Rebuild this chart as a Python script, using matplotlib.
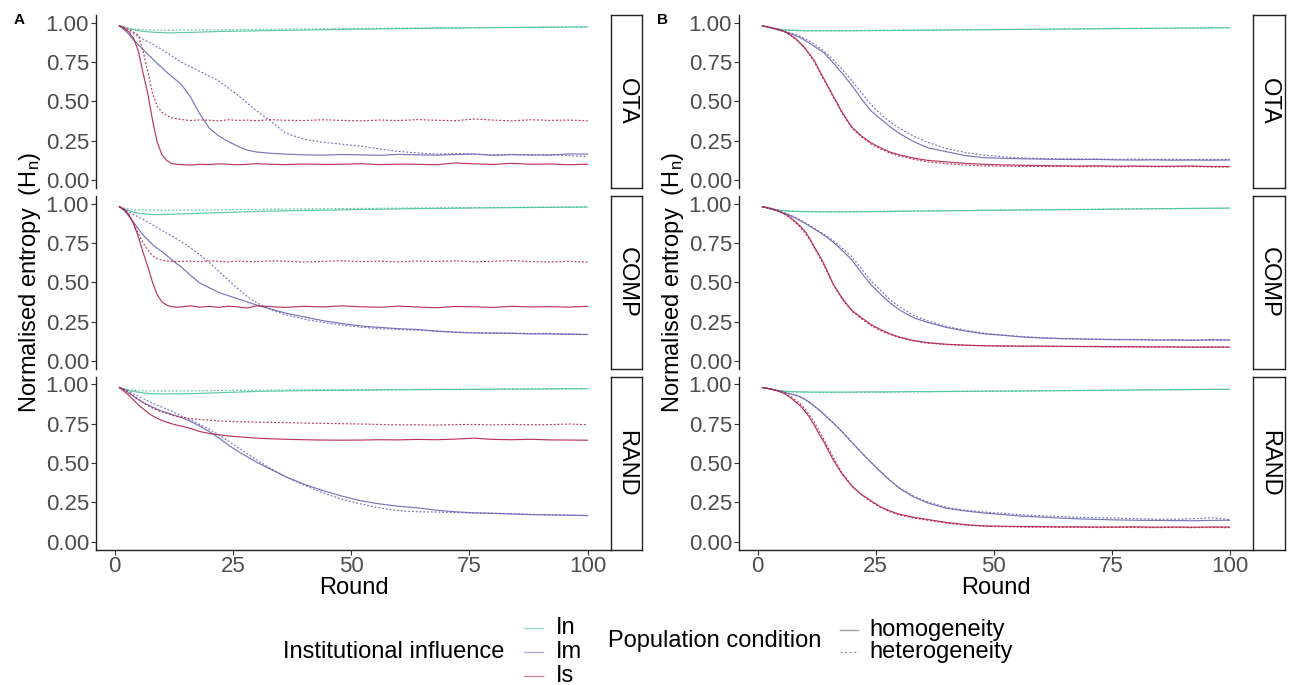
import matplotlib
matplotlib.use("Agg")
from matplotlib import pyplot as plt
from matplotlib.lines import Line2D

plt.rcParams['font.family'] = ['Liberation Sans', 'DejaVu Sans']
plt.rcParams['mathtext.fontset'] = 'custom'
plt.rcParams['mathtext.rm'] = 'Liberation Sans'
plt.rcParams['mathtext.it'] = 'Liberation Sans:italic'

########## data ##########
rounds = [1, 2, 3, 4, 5, 6, 7, 8, 9, 10, 11, 12, 13, 14, 16, 18, 20, 22, 24, 26,
          28, 30, 33, 36, 40, 44, 48, 52, 56, 60, 64, 68, 72, 76, 80, 84, 88, 92, 96, 100]

facets = ["OTA", "COMP", "RAND"]
influences = ["In", "Im", "Is"]
conditions = ["homogeneity", "heterogeneity"]

# panel A - OTA
a_ota_in_hom = [0.980,0.970,0.960,0.955,0.950,0.945,0.942,0.940,0.938,0.937,0.936,0.935,0.936,0.937,
                0.938,0.940,0.942,0.944,0.945,0.946,0.947,0.948,0.950,0.951,0.953,0.955,0.957,0.959,0.960,0.962,0.963,0.965,0.966,0.967,0.968,0.969,0.970,0.971,0.972,0.973]
a_ota_in_het = [0.980,0.972,0.965,0.960,0.957,0.955,0.954,0.953,0.953,0.952,0.952,0.952,0.952,0.953,
                0.953,0.954,0.954,0.955,0.955,0.956,0.956,0.957,0.958,0.959,0.960,0.961,0.962,0.963,0.964,0.965,0.966,0.967,0.968,0.969,0.970,0.970,0.971,0.972,0.972,0.973]
a_ota_im_hom = [0.980,0.955,0.925,0.890,0.860,0.830,0.800,0.770,0.740,0.715,0.685,0.660,0.635,0.610,
                0.530,0.420,0.330,0.280,0.245,0.215,0.190,0.178,0.170,0.165,0.160,0.158,0.162,0.160,0.157,0.163,0.160,0.158,0.162,0.165,0.157,0.161,0.160,0.158,0.166,0.165]
a_ota_im_het = [0.980,0.960,0.945,0.930,0.910,0.895,0.880,0.865,0.845,0.830,0.810,0.790,0.770,0.750,
                0.720,0.690,0.660,0.630,0.585,0.540,0.490,0.440,0.375,0.300,0.260,0.240,0.228,0.215,0.198,0.182,0.172,0.165,0.168,0.165,0.160,0.163,0.158,0.162,0.155,0.150]
a_ota_is_hom = [0.980,0.965,0.940,0.900,0.820,0.680,0.550,0.380,0.240,0.160,0.125,0.105,0.100,0.098,
                0.095,0.100,0.098,0.103,0.100,0.097,0.100,0.104,0.100,0.098,0.102,0.099,0.100,0.104,0.098,0.101,0.100,0.097,0.108,0.103,0.099,0.106,0.100,0.102,0.097,0.101]
a_ota_is_het = [0.980,0.970,0.955,0.940,0.920,0.820,0.690,0.550,0.470,0.430,0.410,0.395,0.390,0.385,
                0.378,0.382,0.380,0.376,0.383,0.379,0.381,0.377,0.384,0.380,0.378,0.383,0.379,0.376,0.381,0.378,0.384,0.380,0.377,0.388,0.381,0.376,0.383,0.379,0.381,0.377]

# panel A - COMP
a_comp_in_hom = [0.980,0.965,0.955,0.945,0.940,0.935,0.932,0.930,0.930,0.930,0.931,0.932,0.933,0.934,
                 0.936,0.938,0.940,0.942,0.944,0.946,0.948,0.950,0.952,0.954,0.956,0.958,0.960,0.962,0.964,0.966,0.968,0.969,0.970,0.972,0.973,0.974,0.975,0.976,0.977,0.978]
a_comp_in_het = [0.980,0.970,0.965,0.962,0.960,0.960,0.959,0.959,0.958,0.958,0.958,0.958,0.958,0.958,
                 0.959,0.959,0.960,0.960,0.961,0.962,0.962,0.963,0.964,0.965,0.966,0.967,0.968,0.969,0.970,0.971,0.972,0.973,0.974,0.975,0.975,0.976,0.977,0.977,0.978,0.978]
a_comp_im_hom = [0.980,0.955,0.920,0.880,0.840,0.800,0.770,0.740,0.715,0.695,0.670,0.645,0.620,0.600,
                 0.545,0.495,0.465,0.435,0.415,0.395,0.375,0.355,0.330,0.305,0.280,0.256,0.238,0.222,0.213,0.205,0.200,0.190,0.182,0.178,0.176,0.175,0.172,0.171,0.169,0.168]
a_comp_im_het = [0.980,0.965,0.948,0.930,0.915,0.900,0.882,0.865,0.848,0.830,0.812,0.795,0.778,0.760,
                 0.720,0.675,0.625,0.570,0.515,0.460,0.410,0.370,0.325,0.295,0.265,0.245,0.228,0.215,0.205,0.200,0.195,0.188,0.183,0.180,0.179,0.177,0.174,0.175,0.172,0.168]
a_comp_is_hom = [0.980,0.965,0.930,0.870,0.790,0.690,0.600,0.500,0.420,0.375,0.355,0.345,0.342,0.343,
                 0.350,0.342,0.347,0.340,0.348,0.344,0.336,0.350,0.345,0.340,0.347,0.343,0.350,0.344,0.341,0.348,0.343,0.338,0.346,0.344,0.340,0.347,0.343,0.345,0.342,0.347]
a_comp_is_het = [0.980,0.960,0.930,0.875,0.810,0.750,0.705,0.670,0.650,0.640,0.635,0.633,0.632,0.632,
                 0.634,0.630,0.636,0.633,0.629,0.635,0.632,0.630,0.636,0.634,0.628,0.633,0.637,0.631,0.634,0.629,0.635,0.632,0.636,0.630,0.633,0.638,0.631,0.629,0.633,0.628]

# panel A - RAND
a_rand_in_hom = [0.980,0.970,0.960,0.955,0.950,0.946,0.943,0.940,0.940,0.939,0.939,0.939,0.940,0.940,
                 0.941,0.943,0.945,0.947,0.949,0.951,0.953,0.955,0.957,0.958,0.960,0.961,0.962,0.963,0.964,0.965,0.966,0.967,0.967,0.968,0.969,0.970,0.970,0.971,0.972,0.972]
a_rand_in_het = [0.980,0.972,0.966,0.962,0.960,0.959,0.958,0.958,0.958,0.958,0.958,0.958,0.958,0.959,
                 0.959,0.960,0.960,0.961,0.961,0.962,0.962,0.963,0.964,0.964,0.965,0.966,0.966,0.967,0.967,0.968,0.968,0.969,0.969,0.970,0.970,0.971,0.971,0.972,0.972,0.973]
a_rand_im_hom = [0.980,0.965,0.945,0.925,0.905,0.885,0.870,0.855,0.842,0.830,0.820,0.810,0.800,0.790,
                 0.765,0.735,0.700,0.660,0.615,0.575,0.540,0.505,0.460,0.415,0.365,0.325,0.290,0.260,0.240,0.225,0.215,0.200,0.190,0.183,0.180,0.176,0.172,0.170,0.168,0.166]
a_rand_im_het = [0.980,0.970,0.955,0.940,0.925,0.910,0.895,0.880,0.868,0.855,0.843,0.830,0.815,0.800,
                 0.775,0.745,0.715,0.680,0.640,0.600,0.560,0.520,0.465,0.415,0.360,0.310,0.270,0.240,0.215,0.197,0.190,0.188,0.185,0.182,0.180,0.178,0.173,0.170,0.168,0.166]
a_rand_is_hom = [0.980,0.955,0.930,0.900,0.870,0.845,0.820,0.800,0.785,0.770,0.760,0.750,0.742,0.735,
                 0.720,0.700,0.688,0.680,0.672,0.667,0.663,0.658,0.654,0.651,0.648,0.646,0.645,0.646,0.648,0.647,0.650,0.648,0.652,0.658,0.650,0.648,0.651,0.647,0.646,0.645]
a_rand_is_het = [0.980,0.965,0.945,0.925,0.905,0.885,0.865,0.850,0.835,0.825,0.815,0.805,0.797,0.790,
                 0.782,0.777,0.772,0.768,0.765,0.763,0.762,0.760,0.758,0.757,0.754,0.752,0.750,0.748,0.745,0.742,0.743,0.741,0.744,0.745,0.742,0.745,0.743,0.744,0.748,0.743]

# panel B - OTA
b_ota_in_hom = [0.980,0.972,0.965,0.960,0.956,0.953,0.951,0.950,0.949,0.948,0.948,0.948,0.948,0.948,
                0.948,0.948,0.948,0.949,0.949,0.950,0.950,0.951,0.951,0.952,0.953,0.954,0.955,0.956,0.957,0.958,0.959,0.960,0.961,0.962,0.963,0.964,0.965,0.966,0.967,0.968]
b_ota_in_het = [0.980,0.973,0.967,0.962,0.958,0.956,0.954,0.953,0.952,0.951,0.951,0.951,0.951,0.951,
                0.951,0.951,0.951,0.951,0.952,0.952,0.952,0.953,0.953,0.954,0.955,0.955,0.956,0.957,0.958,0.959,0.960,0.961,0.962,0.963,0.964,0.964,0.965,0.966,0.967,0.968]
b_ota_im_hom = [0.980,0.973,0.965,0.957,0.948,0.940,0.930,0.918,0.905,0.888,0.870,0.850,0.830,0.810,
                0.745,0.675,0.600,0.515,0.440,0.390,0.340,0.297,0.245,0.205,0.180,0.155,0.142,0.138,0.135,0.133,0.131,0.130,0.131,0.128,0.127,0.128,0.126,0.127,0.126,0.127]
b_ota_im_het = [0.980,0.974,0.967,0.960,0.952,0.944,0.935,0.925,0.913,0.898,0.882,0.864,0.843,0.820,
                0.765,0.700,0.630,0.555,0.480,0.420,0.370,0.330,0.280,0.240,0.200,0.175,0.158,0.148,0.140,0.137,0.135,0.134,0.133,0.132,0.133,0.131,0.132,0.130,0.131,0.131]
b_ota_is_hom = [0.980,0.975,0.968,0.960,0.952,0.940,0.920,0.900,0.870,0.840,0.800,0.760,0.700,0.645,
                0.535,0.425,0.335,0.280,0.237,0.205,0.178,0.160,0.140,0.125,0.115,0.106,0.100,0.096,0.094,0.092,0.090,0.089,0.090,0.088,0.089,0.087,0.088,0.089,0.086,0.085]
b_ota_is_het = [0.980,0.974,0.967,0.958,0.950,0.937,0.918,0.897,0.868,0.836,0.797,0.752,0.695,0.640,
                0.528,0.420,0.330,0.275,0.230,0.198,0.172,0.152,0.132,0.115,0.104,0.095,0.090,0.088,0.087,0.086,0.087,0.085,0.086,0.084,0.086,0.085,0.084,0.086,0.083,0.084]

# panel B - COMP
b_comp_in_hom = [0.980,0.972,0.965,0.960,0.956,0.953,0.951,0.950,0.949,0.948,0.948,0.947,0.947,0.947,
                 0.947,0.947,0.947,0.948,0.948,0.949,0.950,0.951,0.952,0.953,0.954,0.955,0.957,0.958,0.959,0.960,0.961,0.962,0.963,0.965,0.966,0.967,0.968,0.969,0.970,0.971]
b_comp_in_het = [0.980,0.973,0.967,0.962,0.958,0.955,0.953,0.952,0.951,0.950,0.950,0.949,0.949,0.949,
                 0.949,0.949,0.949,0.950,0.950,0.951,0.952,0.952,0.953,0.954,0.955,0.956,0.958,0.959,0.960,0.961,0.962,0.963,0.964,0.965,0.966,0.967,0.968,0.969,0.970,0.971]
b_comp_im_hom = [0.980,0.972,0.963,0.955,0.945,0.935,0.922,0.908,0.892,0.875,0.857,0.838,0.820,0.800,
                 0.755,0.700,0.640,0.560,0.485,0.425,0.370,0.325,0.275,0.245,0.213,0.190,0.172,0.163,0.152,0.146,0.142,0.140,0.137,0.135,0.136,0.133,0.134,0.131,0.135,0.133]
b_comp_im_het = [0.980,0.973,0.965,0.957,0.948,0.938,0.926,0.912,0.897,0.880,0.862,0.843,0.825,0.806,
                 0.765,0.715,0.660,0.585,0.510,0.450,0.390,0.345,0.290,0.255,0.220,0.195,0.176,0.165,0.155,0.148,0.143,0.140,0.138,0.137,0.135,0.134,0.132,0.133,0.131,0.132]
b_comp_is_hom = [0.980,0.975,0.968,0.958,0.945,0.930,0.910,0.885,0.857,0.825,0.780,0.725,0.675,0.620,
                 0.490,0.395,0.320,0.275,0.232,0.200,0.173,0.152,0.130,0.116,0.106,0.100,0.097,0.095,0.094,0.094,0.093,0.092,0.092,0.090,0.090,0.089,0.089,0.088,0.088,0.088]
b_comp_is_het = [0.980,0.974,0.966,0.956,0.943,0.927,0.906,0.880,0.850,0.815,0.772,0.718,0.665,0.612,
                 0.485,0.388,0.315,0.268,0.225,0.193,0.168,0.148,0.127,0.113,0.104,0.099,0.096,0.094,0.093,0.092,0.092,0.091,0.090,0.090,0.089,0.088,0.088,0.087,0.088,0.087]

# panel B - RAND
b_rand_in_hom = [0.980,0.973,0.967,0.962,0.958,0.956,0.954,0.953,0.952,0.952,0.951,0.951,0.951,0.951,
                 0.951,0.951,0.951,0.952,0.952,0.952,0.953,0.953,0.954,0.954,0.955,0.956,0.957,0.957,0.958,0.959,0.960,0.961,0.962,0.963,0.964,0.965,0.966,0.967,0.968,0.969]
b_rand_in_het = [0.980,0.974,0.968,0.963,0.959,0.956,0.954,0.952,0.951,0.950,0.949,0.949,0.948,0.948,
                 0.948,0.948,0.948,0.949,0.949,0.950,0.950,0.951,0.952,0.953,0.954,0.955,0.956,0.957,0.958,0.959,0.960,0.961,0.962,0.963,0.964,0.965,0.966,0.967,0.968,0.969]
b_rand_im_hom = [0.980,0.975,0.970,0.963,0.955,0.947,0.940,0.932,0.922,0.905,0.885,0.862,0.838,0.812,
                 0.755,0.695,0.630,0.565,0.505,0.445,0.390,0.340,0.285,0.246,0.212,0.195,0.182,0.172,0.162,0.156,0.150,0.145,0.141,0.138,0.136,0.135,0.134,0.133,0.135,0.136]
b_rand_im_het = [0.980,0.975,0.969,0.962,0.954,0.946,0.938,0.930,0.920,0.904,0.884,0.861,0.837,0.811,
                 0.755,0.697,0.632,0.567,0.506,0.447,0.392,0.343,0.290,0.252,0.218,0.200,0.188,0.180,0.170,0.165,0.160,0.155,0.152,0.150,0.146,0.143,0.142,0.145,0.152,0.140]
b_rand_is_hom = [0.980,0.975,0.968,0.960,0.950,0.935,0.915,0.890,0.865,0.830,0.790,0.740,0.685,0.635,
                 0.520,0.425,0.352,0.300,0.260,0.222,0.195,0.175,0.155,0.141,0.122,0.108,0.100,0.098,0.096,0.095,0.094,0.094,0.093,0.093,0.094,0.092,0.093,0.092,0.093,0.093]
b_rand_is_het = [0.980,0.975,0.969,0.962,0.953,0.940,0.922,0.900,0.876,0.845,0.805,0.758,0.705,0.652,
                 0.535,0.432,0.355,0.298,0.255,0.218,0.190,0.170,0.150,0.136,0.118,0.105,0.098,0.095,0.093,0.092,0.092,0.091,0.090,0.091,0.090,0.089,0.090,0.089,0.090,0.089]

panel_a = [
    [[a_ota_in_hom, a_ota_in_het], [a_ota_im_hom, a_ota_im_het], [a_ota_is_hom, a_ota_is_het]],
    [[a_comp_in_hom, a_comp_in_het], [a_comp_im_hom, a_comp_im_het], [a_comp_is_hom, a_comp_is_het]],
    [[a_rand_in_hom, a_rand_in_het], [a_rand_im_hom, a_rand_im_het], [a_rand_is_hom, a_rand_is_het]],
]
panel_b = [
    [[b_ota_in_hom, b_ota_in_het], [b_ota_im_hom, b_ota_im_het], [b_ota_is_hom, b_ota_is_het]],
    [[b_comp_in_hom, b_comp_in_het], [b_comp_im_hom, b_comp_im_het], [b_comp_is_hom, b_comp_is_het]],
    [[b_rand_in_hom, b_rand_in_het], [b_rand_im_hom, b_rand_im_het], [b_rand_is_hom, b_rand_is_het]],
]

########## style ##########
W, H = 1291, 685
colors = {"In": "#4fc29b", "Im": "#6a66b3", "Is": "#b3214a"}
styles = {"homogeneity": "-", "heterogeneity": (0, (1.6, 1.6))}
grey = "#4D4D4D"


# pixel box (left, top, right, bottom) -> figure rect
def box(l, t, r, b):
    return [l / W, 1 - b / H, (r - l) / W, (b - t) / H]


fig = plt.figure(figsize=(W / 100, H / 100), dpi=100)

facet_rows = [(14.8, 187.9), (195.7, 368.8), (376.5, 549.5)]
panel_x = [(96, 611, 642), (739, 1253, 1285)]


def draw_panel(data, x0, x1, xs, letter):
    for k, (top, bot) in enumerate(facet_rows):
        ax = fig.add_axes(box(x0, top, x1, bot))
        for i, infl in enumerate(influences):
            for j, cond in enumerate(conditions):
                ax.plot(rounds, data[k][i][j], color=colors[infl], ls=styles[cond],
                        lw=0.85, alpha=0.9)
        ax.set_xlim(-3.95, 104.95)
        ax.set_ylim(-0.05, 1.05)
        ax.set_yticks([0, 0.25, 0.5, 0.75, 1.0])
        ax.set_yticklabels(["0.00", "0.25", "0.50", "0.75", "1.00"])
        ax.set_xticks([0, 25, 50, 75, 100])
        for s in ["top", "right"]:
            ax.spines[s].set_visible(False)
        for s in ["left", "bottom"]:
            ax.spines[s].set_linewidth(1.0)
            ax.spines[s].set_color("#222222")
        ax.tick_params(colors="#333333", labelcolor=grey, labelsize=16, length=3.5,
                       width=0.8, pad=1.5)
        if k < 2:
            ax.spines["bottom"].set_visible(False)
            ax.tick_params(axis="x", bottom=False, labelbottom=False)
        else:
            ax.set_xlabel("Round", fontsize=17, labelpad=0)
        # facet strip on the right
        sax = fig.add_axes(box(x1, top, xs, bot))
        sax.set_xticks([])
        sax.set_yticks([])
        for s in sax.spines.values():
            s.set_linewidth(1.0)
            s.set_color("#222222")
        sax.text(0.5, 0.5, facets[k], rotation=-90, ha="center", va="center",
                 fontsize=17, transform=sax.transAxes)
    fig.text((x0 - 66) / W, 1 - 282 / H, r"Normalised entropy  (H$_{\mathrm{n}}$)",
             rotation=90, ha="center", va="center", fontsize=17)
    fig.text((x0 - 82) / W, 1 - 20 / H, letter, ha="left", va="center",
             fontsize=11, fontweight="bold")


draw_panel(panel_a, panel_x[0][0], panel_x[0][1], panel_x[0][2], "A")
draw_panel(panel_b, panel_x[1][0], panel_x[1][1], panel_x[1][2], "B")

########## legend ##########
def key(x0, x1, y, color, ls):
    fig.add_artist(Line2D([x0 / W, x1 / W], [1 - y / H, 1 - y / H], color=color,
                          ls=ls, lw=1.0, alpha=0.55, transform=fig.transFigure))


fig.text(283 / W, 1 - 652 / H, "Institutional influence", fontsize=17, va="center")
for i, infl in enumerate(influences):
    y = 628 + 24 * i
    key(524, 543, y, colors[infl], "-")
    fig.text(556 / W, 1 - y / H, infl, fontsize=17, va="center")

fig.text(608 / W, 1 - 641 / H, "Population condition", fontsize=17, va="center")
for j, cond in enumerate(conditions):
    y = 630 + 22 * j
    key(840, 858, y, "#555555", styles[cond])
    fig.text(869 / W, 1 - y / H, cond, fontsize=17, va="center")

fig.savefig("out.png", dpi=100)
